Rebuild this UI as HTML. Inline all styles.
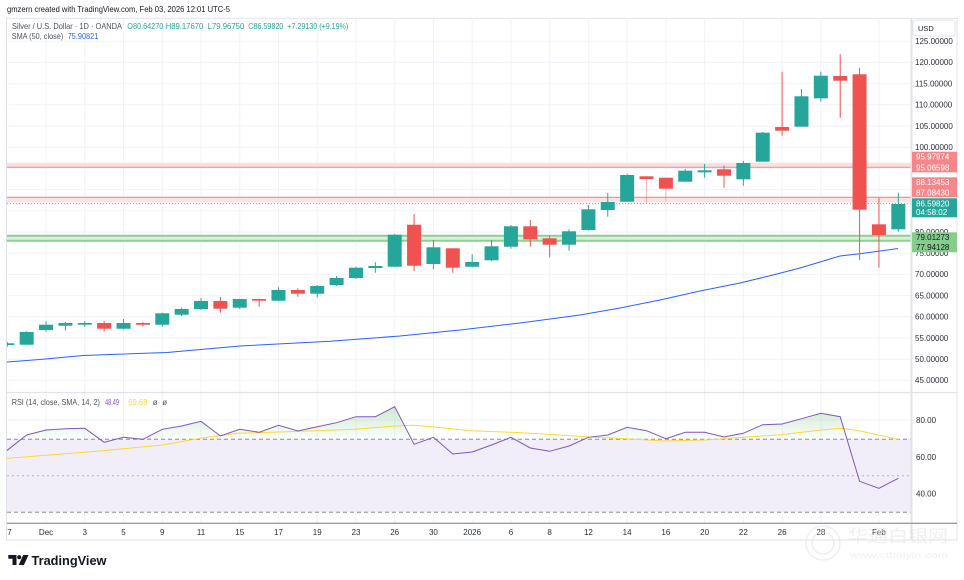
<!DOCTYPE html>
<html><head><meta charset="utf-8"><style>
html,body{margin:0;padding:0;background:#fff;}
svg{display:block;}
text{font-family:"Liberation Sans","Noto Sans CJK SC",sans-serif;}
</style></head><body>
<svg width="964" height="580" viewBox="0 0 964 580" xmlns="http://www.w3.org/2000/svg">
<defs>
<clipPath id="main"><rect x="7" y="18.5" width="904" height="373.5"/></clipPath>
<clipPath id="rsi"><rect x="7" y="393" width="904" height="130"/></clipPath>
<clipPath id="ob"><rect x="7" y="380" width="904" height="59.2"/></clipPath>
<clipPath id="tax"><rect x="7" y="524" width="904" height="16"/></clipPath>
<linearGradient id="gg" x1="0" y1="383" x2="0" y2="439.2" gradientUnits="userSpaceOnUse">
<stop offset="0" stop-color="#4caf50" stop-opacity="0.45"/>
<stop offset="1" stop-color="#4caf50" stop-opacity="0.02"/>
</linearGradient>
</defs>
<rect width="964" height="580" fill="#fff"/>
<text x="7" y="12" font-size="8.5" fill="#131722" textLength="223" lengthAdjust="spacingAndGlyphs">gmzern created with TradingView.com, Feb 03, 2026 12:01 UTC-5</text>

<!-- chart box -->
<rect x="6.5" y="18.3" width="950.5" height="521.7" fill="#fff" stroke="#e0e3eb" stroke-width="1"/>

<!-- grid main -->
<g stroke="#f0f3fa" stroke-width="1">
<line x1="7" x2="911" y1="41.2" y2="41.2"/><line x1="7" x2="911" y1="62.4" y2="62.4"/><line x1="7" x2="911" y1="83.6" y2="83.6"/><line x1="7" x2="911" y1="104.8" y2="104.8"/><line x1="7" x2="911" y1="126" y2="126"/><line x1="7" x2="911" y1="147.2" y2="147.2"/><line x1="7" x2="911" y1="168.4" y2="168.4"/><line x1="7" x2="911" y1="189.6" y2="189.6"/><line x1="7" x2="911" y1="210.8" y2="210.8"/><line x1="7" x2="911" y1="232" y2="232"/><line x1="7" x2="911" y1="253.2" y2="253.2"/><line x1="7" x2="911" y1="274.4" y2="274.4"/><line x1="7" x2="911" y1="295.6" y2="295.6"/><line x1="7" x2="911" y1="316.8" y2="316.8"/><line x1="7" x2="911" y1="338" y2="338"/><line x1="7" x2="911" y1="359.2" y2="359.2"/><line x1="7" x2="911" y1="380.4" y2="380.4"/>
<line x1="7" x2="911" y1="420" y2="420"/><line x1="7" x2="911" y1="456.8" y2="456.8"/><line x1="7" x2="911" y1="493.6" y2="493.6"/>
</g>
<g stroke="#f0f3fa" stroke-width="1">
<line x1="46.04" x2="46.04" y1="19" y2="523"/><line x1="84.78" x2="84.78" y1="19" y2="523"/><line x1="123.52" x2="123.52" y1="19" y2="523"/><line x1="162.26" x2="162.26" y1="19" y2="523"/><line x1="201" x2="201" y1="19" y2="523"/><line x1="239.74" x2="239.74" y1="19" y2="523"/><line x1="278.48" x2="278.48" y1="19" y2="523"/><line x1="317.22" x2="317.22" y1="19" y2="523"/><line x1="355.96" x2="355.96" y1="19" y2="523"/><line x1="394.7" x2="394.7" y1="19" y2="523"/><line x1="433.44" x2="433.44" y1="19" y2="523"/><line x1="472.18" x2="472.18" y1="19" y2="523"/><line x1="510.92" x2="510.92" y1="19" y2="523"/><line x1="549.66" x2="549.66" y1="19" y2="523"/><line x1="588.4" x2="588.4" y1="19" y2="523"/><line x1="627.14" x2="627.14" y1="19" y2="523"/><line x1="665.88" x2="665.88" y1="19" y2="523"/><line x1="704.62" x2="704.62" y1="19" y2="523"/><line x1="743.36" x2="743.36" y1="19" y2="523"/><line x1="782.1" x2="782.1" y1="19" y2="523"/><line x1="820.84" x2="820.84" y1="19" y2="523"/><line x1="878.95" x2="878.95" y1="19" y2="523"/>
</g>

<g clip-path="url(#main)">
<!-- zones -->
<rect x="7" y="162.8" width="904" height="4.8" fill="#fcdfe0"/>
<line x1="7" x2="911" y1="167.3" y2="167.3" stroke="#f29599" stroke-width="1.2"/>
<rect x="7" y="197.3" width="904" height="5.2" fill="#fde3e4"/>
<line x1="7" x2="911" y1="197.3" y2="197.3" stroke="#f08a8e" stroke-width="1.2"/>
<rect x="7" y="236.5" width="904" height="3.6" fill="#dcefdc"/>
<line x1="7" x2="911" y1="235.8" y2="235.8" stroke="#8fcf91" stroke-width="2"/>
<line x1="7" x2="911" y1="240.8" y2="240.8" stroke="#8fcf91" stroke-width="2"/>
<line x1="7" x2="911" y1="203.6" y2="203.6" stroke="#26a69a" stroke-width="1" stroke-dasharray="1,2" opacity="0.7"/>

<!-- SMA -->
<polyline fill="none" stroke="#2962ff" stroke-width="1" points="7,362 40,359.5 83,355.5 167,352.5 240,346 330,341.3 400,336 460,330 520,323 580,315 620,308 660,300 700,291 740,283 773,275 800,268 820,262 840,256 860,253.7 880,251 898,248.5"/>

<!-- candles -->
<g fill="#26a69a">
<rect x="6.8" y="342" width="1" height="4.7"/><rect x="0.3" y="343.3" width="14" height="1.7"/>
<rect x="26.17" y="331.3" width="1" height="13.4"/><rect x="19.67" y="332" width="14" height="12.7"/>
<rect x="45.54" y="321.3" width="1" height="10.4"/><rect x="39.04" y="324.7" width="14" height="5.3"/>
<rect x="64.91" y="322" width="1" height="8.7"/><rect x="58.41" y="323" width="14" height="2.7"/>
<rect x="84.28" y="321" width="1" height="5.7"/><rect x="77.78" y="323" width="14" height="1.7"/>
<rect x="123.02" y="319" width="1" height="10.3"/><rect x="116.52" y="323" width="14" height="5.7"/>
<rect x="161.76" y="312.7" width="1" height="14"/><rect x="155.26" y="313.3" width="14" height="11.4"/>
<rect x="181.13" y="307.7" width="1" height="8.3"/><rect x="174.63" y="309" width="14" height="5.7"/>
<rect x="200.5" y="298" width="1" height="12"/><rect x="194" y="301" width="14" height="8"/>
<rect x="239.24" y="298.7" width="1" height="10.3"/><rect x="232.74" y="299" width="14" height="8.7"/>
<rect x="277.98" y="287.3" width="1" height="13.7"/><rect x="271.48" y="290" width="14" height="10.7"/>
<rect x="316.72" y="285" width="1" height="12.3"/><rect x="310.22" y="286" width="14" height="7.7"/>
<rect x="336.09" y="276" width="1" height="10"/><rect x="329.59" y="278" width="14" height="7"/>
<rect x="355.46" y="266.7" width="1" height="12.3"/><rect x="348.96" y="267.7" width="14" height="10.3"/>
<rect x="374.83" y="262.3" width="1" height="10.4"/><rect x="368.33" y="266" width="14" height="2"/>
<rect x="394.2" y="234" width="1" height="33"/><rect x="387.7" y="234.7" width="14" height="32"/>
<rect x="432.94" y="240" width="1" height="29"/><rect x="426.44" y="247.3" width="14" height="16.7"/>
<rect x="471.68" y="254.3" width="1" height="13"/><rect x="465.18" y="262" width="14" height="4.7"/>
<rect x="491.05" y="240" width="1" height="21"/><rect x="484.55" y="246.3" width="14" height="14"/>
<rect x="510.42" y="225" width="1" height="23.7"/><rect x="503.92" y="226.3" width="14" height="20.4"/>
<rect x="568.53" y="229.3" width="1" height="21.4"/><rect x="562.03" y="231.3" width="14" height="13.4"/>
<rect x="587.9" y="205" width="1" height="25.5"/><rect x="581.4" y="209.3" width="14" height="20.7"/>
<rect x="607.27" y="193" width="1" height="23.7"/><rect x="600.77" y="202" width="14" height="8"/>
<rect x="626.64" y="173.7" width="1" height="28"/><rect x="620.14" y="175" width="14" height="26.7"/>
<rect x="684.75" y="169" width="1" height="12.7"/><rect x="678.25" y="170.7" width="14" height="11"/>
<rect x="704.12" y="164" width="1" height="13.7"/><rect x="697.62" y="170.3" width="14" height="2"/>
<rect x="742.86" y="161" width="1" height="24.7"/><rect x="736.36" y="163" width="14" height="16.3"/>
<rect x="762.23" y="132" width="1" height="29.7"/><rect x="755.73" y="132.7" width="14" height="29"/>
<rect x="800.97" y="89" width="1" height="37.7"/><rect x="794.47" y="96.3" width="14" height="30.4"/>
<rect x="820.34" y="71.7" width="1" height="30"/><rect x="813.84" y="75.7" width="14" height="22.6"/>
<rect x="897.82" y="192.7" width="1" height="39"/><rect x="891.32" y="204" width="14" height="25.3"/>
</g>
<g fill="#ef5350">
<rect x="103.65" y="321" width="1" height="10.7"/><rect x="97.15" y="323" width="14" height="5.7"/>
<rect x="142.39" y="322" width="1" height="4.7"/><rect x="135.89" y="323" width="14" height="1.7"/>
<rect x="219.87" y="297" width="1" height="15.7"/><rect x="213.37" y="301" width="14" height="7.7"/>
<rect x="258.61" y="298.7" width="1" height="8"/><rect x="252.11" y="299" width="14" height="1.7"/>
<rect x="297.35" y="288.3" width="1" height="8.4"/><rect x="290.85" y="290" width="14" height="3.7"/>
<rect x="413.57" y="214" width="1" height="57"/><rect x="407.07" y="224.7" width="14" height="41"/>
<rect x="452.31" y="248.3" width="1" height="24.4"/><rect x="445.81" y="248.3" width="14" height="19.4"/>
<rect x="529.79" y="220" width="1" height="26.7"/><rect x="523.29" y="226.3" width="14" height="13"/>
<rect x="549.16" y="235.7" width="1" height="21.6"/><rect x="542.66" y="238.3" width="14" height="6.4"/>
<rect x="646.01" y="176.3" width="1" height="26.7" opacity="0.4"/><rect x="639.51" y="176.3" width="14" height="2.7"/>
<rect x="665.38" y="177.7" width="1" height="24" opacity="0.4"/><rect x="658.88" y="177.7" width="14" height="11"/>
<rect x="723.49" y="165.7" width="1" height="22"/><rect x="716.99" y="169.3" width="14" height="6.4"/>
<rect x="781.6" y="71.7" width="1" height="64"/><rect x="775.1" y="127" width="14" height="3.7"/>
<rect x="839.71" y="54.3" width="1" height="63.4"/><rect x="833.21" y="76" width="14" height="4.7"/>
<rect x="859.08" y="67.7" width="1" height="192.3"/><rect x="852.58" y="74.3" width="14" height="135.4"/>
<rect x="878.45" y="197.7" width="1" height="70"/><rect x="871.95" y="224.3" width="14" height="10.7"/>
</g>
</g>

<!-- legend main -->
<g font-size="8">
<text x="12" y="29" fill="#50535e" textLength="110" lengthAdjust="spacingAndGlyphs">Silver / U.S. Dollar · 1D · OANDA</text>
<text x="127.3" y="29" fill="#26a69a" textLength="36" lengthAdjust="spacingAndGlyphs">O80.64270</text>
<text x="165.7" y="29" fill="#26a69a" textLength="37.6" lengthAdjust="spacingAndGlyphs">H89.17670</text>
<text x="207.7" y="29" fill="#26a69a" textLength="36.6" lengthAdjust="spacingAndGlyphs">L79.96750</text>
<text x="248.3" y="29" fill="#26a69a" textLength="35" lengthAdjust="spacingAndGlyphs">C86.59820</text>
<text x="287.3" y="29" fill="#26a69a" textLength="61" lengthAdjust="spacingAndGlyphs">+7.29130 (+9.19%)</text>
<text x="11.7" y="39" fill="#50535e" textLength="51.6" lengthAdjust="spacingAndGlyphs">SMA (50, close)</text>
<text x="67.7" y="39" fill="#2962ff" textLength="30.6" lengthAdjust="spacingAndGlyphs">75.90821</text>
</g>

<!-- pane separator -->
<line x1="7" x2="957" y1="392.5" y2="392.5" stroke="#e0e3eb" stroke-width="1.2"/>

<!-- RSI pane -->
<g clip-path="url(#rsi)">
<rect x="7" y="439.2" width="904" height="73.1" fill="#f2eef9"/>
<g clip-path="url(#ob)">
<polygon fill="url(#gg)" points="7.3,450 26.67,435 46.04,430 65.41,428.7 84.78,428.3 104.15,442.3 123.52,437.3 142.89,439.3 162.26,429.3 181.63,426 201,421.3 220.37,436 239.74,429.3 259.11,432.3 278.48,425.3 297.85,431 317.22,426.7 336.59,422.7 355.96,416.7 375.33,416.7 394.7,406.7 414.07,444.3 433.44,437.3 452.81,454 472.18,452 491.55,445 510.92,437.3 530.29,448 549.66,451.3 569.03,446 588.4,437.3 607.77,435 627.14,427.3 646.51,430.7 665.88,438.7 685.25,432.3 704.62,432.3 723.99,437 743.36,433.3 762.73,424.7 782.1,424 801.47,418.7 820.84,413.3 840.21,416.7 859.58,481.3 878.95,488.3 898.32,478.3 898.32,439.2 7.3,439.2"/>
</g>
<line x1="7" x2="911" y1="439.2" y2="439.2" stroke="#8a8d96" stroke-width="1" stroke-dasharray="4,3"/>
<line x1="7" x2="911" y1="475.8" y2="475.8" stroke="#b2b5be" stroke-width="1" stroke-dasharray="2,3"/>
<line x1="7" x2="911" y1="512.3" y2="512.3" stroke="#8a8d96" stroke-width="1" stroke-dasharray="4,3"/>
<polyline fill="none" stroke="#fdd835" stroke-width="1" points="5,458.5 100,451 162.5,445 200,438.3 238,433.3 278.6,432 316,430.7 355,429.3 394.7,426 413,425.3 432.4,426.7 471,430.7 510.7,432.3 548.5,434.3 586,436.7 626.8,438.7 664.5,441 705,440 743,437.3 780.6,434.7 821,430 841.5,428.3 859,430.7 898.4,439.3"/>
<polyline fill="none" stroke="#7e57c2" stroke-width="1" points="5,452 26.67,435 46.04,430 65.41,428.7 84.78,428.3 104.15,442.3 123.52,437.3 142.89,439.3 162.26,429.3 181.63,426 201,421.3 220.37,436 239.74,429.3 259.11,432.3 278.48,425.3 297.85,431 317.22,426.7 336.59,422.7 355.96,416.7 375.33,416.7 394.7,406.7 414.07,444.3 433.44,437.3 452.81,454 472.18,452 491.55,445 510.92,437.3 530.29,448 549.66,451.3 569.03,446 588.4,437.3 607.77,435 627.14,427.3 646.51,430.7 665.88,438.7 685.25,432.3 704.62,432.3 723.99,437 743.36,433.3 762.73,424.7 782.1,424 801.47,418.7 820.84,413.3 840.21,416.7 859.58,481.3 878.95,488.3 898.32,478.3"/>
</g>
<g font-size="8">
<text x="11.7" y="405" fill="#50535e" textLength="88.3" lengthAdjust="spacingAndGlyphs">RSI (14, close, SMA, 14, 2)</text>
<text x="105" y="405" fill="#7e57c2" textLength="14" lengthAdjust="spacingAndGlyphs">48.49</text>
<text x="128.3" y="405" fill="#fdd835" textLength="19" lengthAdjust="spacingAndGlyphs">69.68</text>
<text x="152.7" y="405" fill="#50535e">ø</text>
<text x="162.3" y="405" fill="#50535e">ø</text>
</g>

<!-- right axis -->
<line x1="911.5" x2="911.5" y1="18.5" y2="540" stroke="#e0e3eb" stroke-width="2"/>
<rect x="913" y="20" width="42" height="16" rx="3" fill="#fff" stroke="#e0e3eb" stroke-width="1"/>
<text x="918" y="31" font-size="7.5" fill="#131722">USD</text>
<g font-size="8" fill="#2a2e39">
<text x="915" y="44">125.00000</text>
<text x="915" y="65.2">120.00000</text>
<text x="915" y="86.4">115.00000</text>
<text x="915" y="107.6">110.00000</text>
<text x="915" y="128.8">105.00000</text>
<text x="915" y="150">100.00000</text>
<text x="915" y="171.2">95.00000</text>
<text x="915" y="192.4">90.00000</text>
<text x="915" y="213.6">85.00000</text>
<text x="915" y="234.8">80.00000</text>
<text x="915" y="256">75.00000</text>
<text x="915" y="277.2">70.00000</text>
<text x="915" y="298.4">65.00000</text>
<text x="915" y="319.6">60.00000</text>
<text x="915" y="340.8">55.00000</text>
<text x="915" y="362">50.00000</text>
<text x="915" y="383.2">45.00000</text>
<text x="916" y="423">80.00</text>
<text x="916" y="459.8">60.00</text>
<text x="916" y="496.6">40.00</text>
</g>
<rect x="912" y="151.7" width="45" height="20.6" fill="#f7868a"/>
<rect x="912" y="177.3" width="45" height="20" fill="#f7868a"/>
<rect x="912" y="198.3" width="45" height="19" fill="#26a69a"/>
<rect x="912" y="232.3" width="45" height="20" fill="#86cc8a"/>
<g font-size="8">
<text x="916" y="159.6" fill="#fff">95.97974</text>
<text x="916" y="170.6" fill="#fff">95.06598</text>
<text x="916" y="185.2" fill="#fff">88.13453</text>
<text x="916" y="195.6" fill="#fff">87.08430</text>
<text x="916" y="206.6" fill="#fff">86.59820</text>
<text x="916" y="214.8" fill="#fff">04:58:02</text>
<text x="916" y="240.2" fill="#131722">79.01273</text>
<text x="916" y="249.9" fill="#131722">77.94128</text>
</g>

<!-- time axis -->
<line x1="7" x2="957" y1="523.3" y2="523.3" stroke="#9a9da6" stroke-width="1.3"/>
<g font-size="8" fill="#2a2e39" text-anchor="middle">
<text x="7.3" y="535" clip-path="url(#tax)">27</text>
<text x="46.04" y="535">Dec</text>
<text x="84.78" y="535">3</text>
<text x="123.52" y="535">5</text>
<text x="162.26" y="535">9</text>
<text x="201" y="535">11</text>
<text x="239.74" y="535">15</text>
<text x="278.48" y="535">17</text>
<text x="317.22" y="535">19</text>
<text x="355.96" y="535">23</text>
<text x="394.7" y="535">26</text>
<text x="433.44" y="535">30</text>
<text x="472.18" y="535">2026</text>
<text x="510.92" y="535">6</text>
<text x="549.66" y="535">8</text>
<text x="588.4" y="535">12</text>
<text x="627.14" y="535">14</text>
<text x="665.88" y="535">16</text>
<text x="704.62" y="535">20</text>
<text x="743.36" y="535">22</text>
<text x="782.1" y="535">26</text>
<text x="820.84" y="535">28</text>
<text x="878.95" y="535">Feb</text>
</g>

<!-- watermark -->
<g opacity="0.55">
<circle cx="823" cy="543" r="17" fill="none" stroke="#e2e2e2" stroke-width="1.5"/>
<circle cx="823" cy="543" r="11" fill="none" stroke="#e2e2e2" stroke-width="1.5"/>
<text x="848" y="542" font-size="17" fill="#e2e2e2" textLength="100" lengthAdjust="spacingAndGlyphs" font-family="Noto Sans CJK SC, sans-serif">华通白银网</text>
<text x="850" y="558" font-size="8" fill="#e2e2e2" textLength="98" lengthAdjust="spacingAndGlyphs">www.ctbaiyin.com</text>
</g>

<!-- TradingView logo -->
<g fill="#131722">
<path d="M8.3 555 h8.2 v10 h-4 v-6.2 h-4.2 z"/>
<circle cx="19.2" cy="557.2" r="2.1"/>
<path d="M23.2 555 h5.3 l-4.6 10 h-5.2 z"/>
</g>
<text x="31.5" y="565" font-size="13" font-weight="bold" fill="#131722" textLength="75" lengthAdjust="spacingAndGlyphs">TradingView</text>
</svg>
</body></html>
